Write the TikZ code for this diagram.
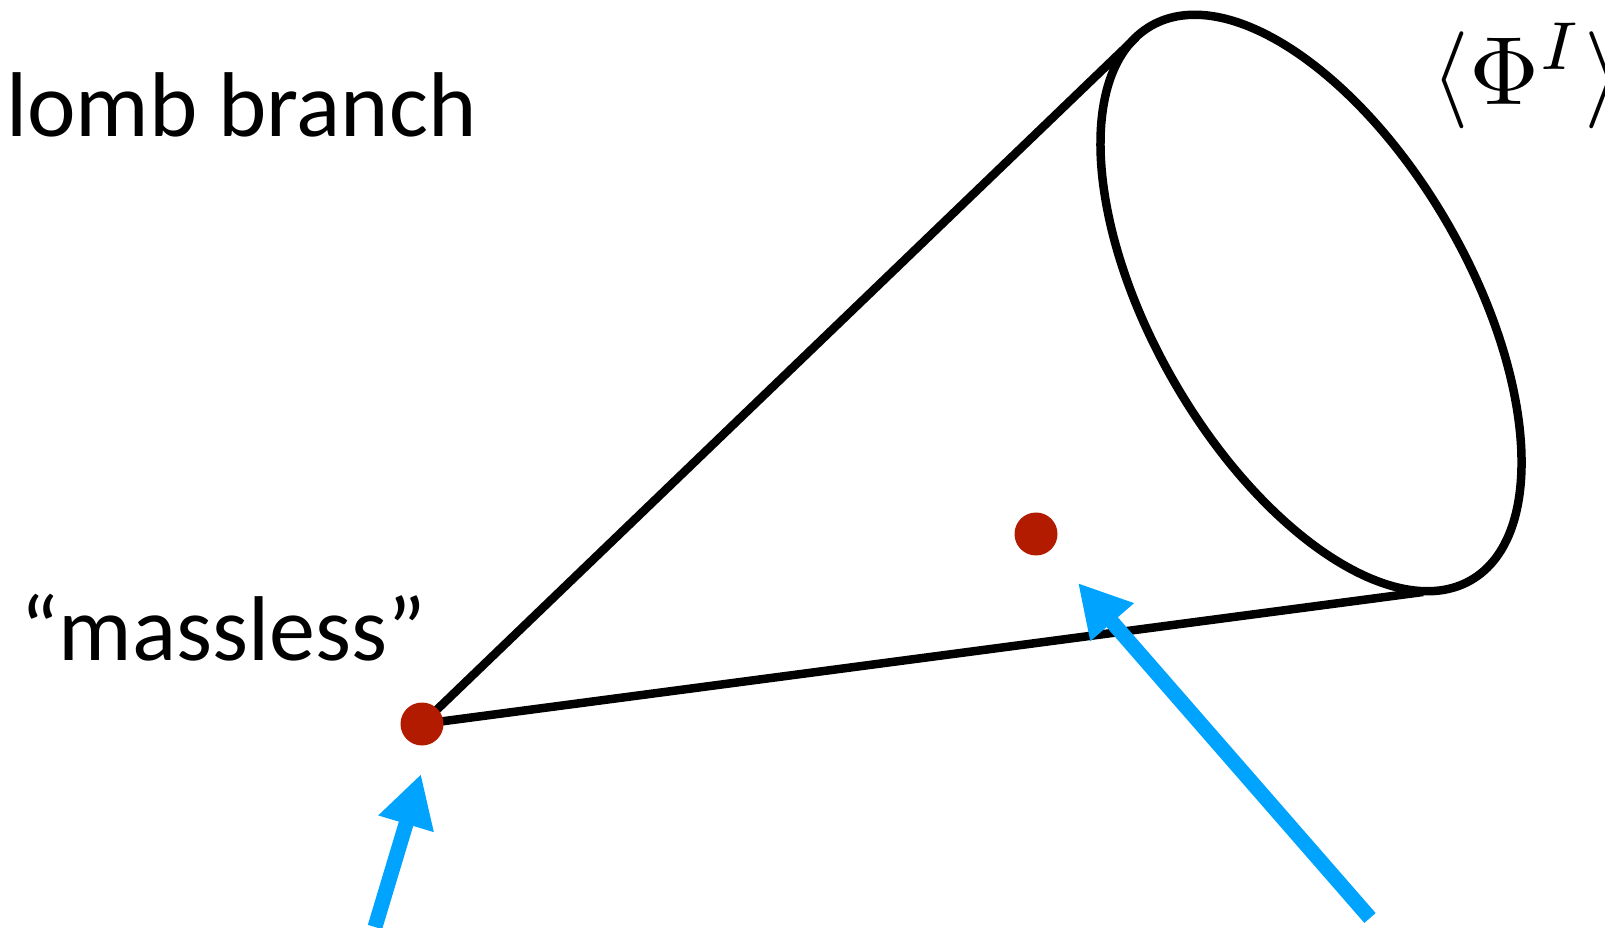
\documentclass[tikz,border=0pt]{standalone}
\usepackage{fontspec}
\setmainfont{Carlito}
\usetikzlibrary{arrows.meta}
\definecolor{dotred}{RGB}{179,27,0}
\definecolor{arrowblue}{RGB}{0,164,255}
\begin{document}
\begin{tikzpicture}[x=1pt,y=1pt,
  dot/.style={circle,fill=dotred,inner sep=0pt,minimum size=43pt},
  cone/.style={line width=8.5pt,black},
  pointer/.style={line width=15pt,arrowblue,-{Triangle[width=54pt,length=52pt]}},
  label/.style={font=\fontsize{92}{104}\selectfont,inner sep=0pt,anchor=base west}]
\useasboundingbox (0,0) rectangle (1605,927);
% cone
\coordinate (c) at (1311,624);
\coordinate (t1) at (1136,889.5);
\coordinate (t2) at (1423,335);
\coordinate (apex) at (422,203);
\draw[cone] (apex) -- (t1);
\draw[cone] (apex) -- (t2);
\draw[cone,rotate around={-60:(c)}] (c) ellipse [x radius=320, y radius=158];
% dots
\node[dot] (a) at (apex) {};
\node[dot] (d) at (1036,393) {};
% arrows
\coordinate (s1) at (375,0);
\coordinate (e1) at (421,153);
\coordinate (s2) at (1370,9);
\coordinate (e2) at (1078,344);
\draw[pointer] (s1) -- (e1);
\draw[pointer] (s2) -- (e2);
% labels
\node[label] (branch) at (6,790) {lomb branch};
\node[label] (massless) at (20,267) {“massless”};
\node[inner sep=0pt,anchor=base west,scale=9.7] (phi) at (1430,822) {$\langle\Phi^I\rangle$};
\end{tikzpicture}
\end{document}
